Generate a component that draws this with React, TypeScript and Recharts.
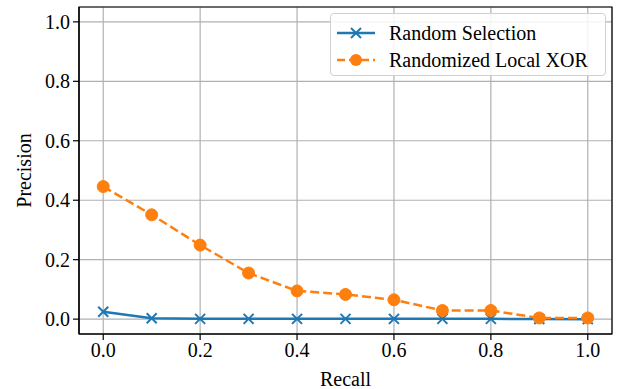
import React from "react";
import {
  LineChart,
  Line,
  XAxis,
  YAxis,
  CartesianGrid,
  ReferenceArea,
} from "recharts";

const recall = [0.0, 0.1, 0.2, 0.3, 0.4, 0.5, 0.6, 0.7, 0.8, 0.9, 1.0];
const randomSelection = [0.025, 0.003, 0.001, 0.001, 0.001, 0.001, 0.001, 0.001, 0.001, 0.0005, 0.0];
const randomizedLocalXor = [0.446, 0.351, 0.249, 0.155, 0.095, 0.083, 0.065, 0.029, 0.029, 0.004, 0.004];
const ticks = [0.0, 0.2, 0.4, 0.6, 0.8, 1.0];

const BLUE = "#1f77b4";
const ORANGE = "#ff7f0e";
// DejaVu Serif isn't available, Liberation Serif is the closest serif we have
const FONT = "Liberation Serif, serif";
const FS = 20;

const data = recall.map((r, i) => ({
  recall: r,
  random: randomSelection[i],
  xor: randomizedLocalXor[i],
}));

const XDot = (props: any) => {
  const { cx, cy } = props;
  if (cx == null || cy == null) return null;
  const s = 5;
  return (
    <g>
      <line x1={cx - s} y1={cy - s} x2={cx + s} y2={cy + s} stroke={BLUE} strokeWidth={2} />
      <line x1={cx - s} y1={cy + s} x2={cx + s} y2={cy - s} stroke={BLUE} strokeWidth={2} />
    </g>
  );
};

const CircleDot = (props: any) => {
  const { cx, cy } = props;
  if (cx == null || cy == null) return null;
  return <circle cx={cx} cy={cy} r={6} fill={ORANGE} stroke={ORANGE} />;
};

const tickStyle = { fontFamily: FONT, fontSize: FS, fill: "#000" };

const legendItems = [
  { name: "Random Selection", color: BLUE, dash: undefined, marker: "x" },
  { name: "Randomized Local XOR", color: ORANGE, dash: "8 4", marker: "o" },
];

export default function App() {
  return (
    <div style={{ position: "absolute", left: 0, top: 0, width: 617, height: 389, background: "#fff" }}>
      <LineChart
        width={617}
        height={389}
        data={data}
        margin={{ top: 7, right: 5, left: 0, bottom: 0 }}
      >
        <CartesianGrid stroke="#b0b0b0" strokeWidth={1.2} />
        <XAxis
          dataKey="recall"
          type="number"
          domain={[-0.05, 1.05]}
          ticks={ticks}
          tickFormatter={(v: number) => v.toFixed(1)}
          height={55}
          tickSize={6}
          tickMargin={3}
          tick={tickStyle}
          stroke="#000"
          tickLine={{ stroke: "#000", strokeWidth: 1.2 }}
          axisLine={{ stroke: "#000", strokeWidth: 1.2 }}
          allowDataOverflow
          label={{ value: "Recall", position: "insideBottom", offset: 3, style: { fontFamily: FONT, fontSize: FS, fill: "#000" } }}
        />
        <YAxis
          type="number"
          domain={[-0.05, 1.05]}
          ticks={ticks}
          tickFormatter={(v: number) => v.toFixed(1)}
          width={79}
          tickSize={6}
          tickMargin={3}
          tick={tickStyle}
          stroke="#000"
          tickLine={{ stroke: "#000", strokeWidth: 1.2 }}
          axisLine={{ stroke: "#000", strokeWidth: 1.2 }}
          allowDataOverflow
          label={{ value: "Precision", angle: -90, position: "center", dx: -16, style: { fontFamily: FONT, fontSize: FS, fill: "#000", textAnchor: "middle" } }}
        />
        <ReferenceArea x1={-0.05} x2={1.05} y1={-0.05} y2={1.05} fill="none" stroke="#000" strokeWidth={1.2} ifOverflow="visible" />
        <Line
          dataKey="random"
          stroke={BLUE}
          strokeWidth={2.5}
          dot={<XDot />}
          activeDot={false}
          isAnimationActive={false}
        />
        <Line
          dataKey="xor"
          stroke={ORANGE}
          strokeWidth={2.5}
          strokeDasharray="9 4"
          dot={<CircleDot />}
          activeDot={false}
          isAnimationActive={false}
        />
      </LineChart>
      <div
        style={{
          position: "absolute",
          left: 330,
          top: 13,
          width: 274,
          height: 61,
          border: "1px solid #d0d0d0",
          borderRadius: 4,
          background: "rgba(255,255,255,0.85)",
          fontFamily: FONT,
          fontSize: FS,
          color: "#000",
        }}
      >
        {legendItems.map((s, i) => (
          <div key={s.name} style={{ position: "absolute", left: 5, top: 7 + i * 27, height: 24, display: "flex", alignItems: "center", whiteSpace: "nowrap" }}>
            <svg width={40} height={20} style={{ marginRight: 13 }}>
              <line x1={1} y1={10} x2={39} y2={10} stroke={s.color} strokeWidth={2.5} strokeDasharray={s.dash} />
              {s.marker === "x" ? (
                <g>
                  <line x1={15} y1={5} x2={25} y2={15} stroke={s.color} strokeWidth={2} />
                  <line x1={15} y1={15} x2={25} y2={5} stroke={s.color} strokeWidth={2} />
                </g>
              ) : (
                <circle cx={20} cy={10} r={6} fill={s.color} />
              )}
            </svg>
            <span>{s.name}</span>
          </div>
        ))}
      </div>
    </div>
  );
}
